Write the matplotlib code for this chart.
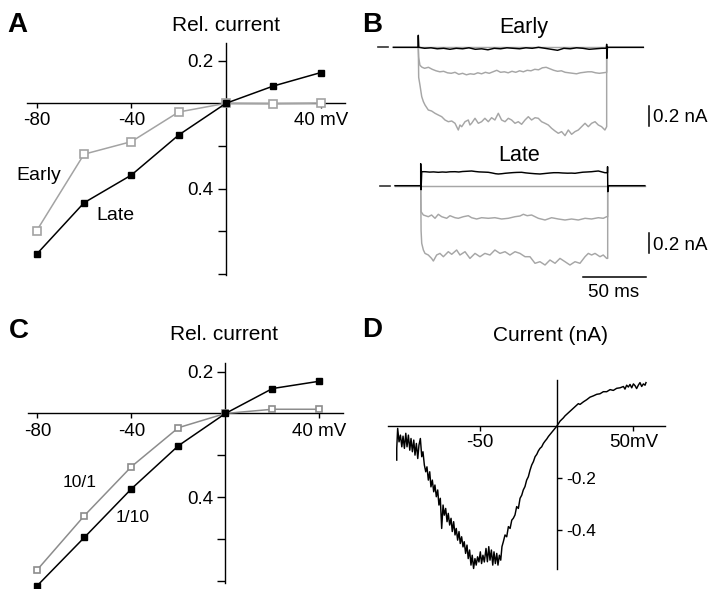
import matplotlib
matplotlib.use("Agg")
import matplotlib.pyplot as plt

plt.rcParams['font.family'] = ['Liberation Sans', 'DejaVu Sans']

# ---------------- data ----------------
# Panel A: relative current vs voltage (mV)
a_mv = [-80, -60, -40, -20, 0, 20, 40]
a_early = [-0.598, -0.239, -0.180, -0.041, 0.0, -0.002, 0.001]
a_late = [-0.708, -0.467, -0.337, -0.149, 0.0, 0.081, 0.144]

# Panel C
c_mv = [-80, -60, -40, -20, 0, 20, 40]
c_10_1 = [-0.746, -0.488, -0.254, -0.068, 0.0, 0.020, 0.020]
c_1_10 = [-0.822, -0.592, -0.360, -0.154, 0.0, 0.119, 0.154]

ytick_vals = [0.2, -0.2, -0.4, -0.6, -0.8]
ytick_labels = ['0.2', '', '0.4', '', '']
xtick_vals = [-80, -40, 40]
xtick_labels = ['-80', '-40', '40 mV']

# Panel B: current traces (time ms, current nA)
early_black = [(-19.7, 0), (-0.3, 0), (0, 0.12), (0.4, 0.0), (5, -0.01), (10, -0.005), (15, -0.015),
               (20, -0.01), (25, -0.02), (30, -0.01), (35, -0.015), (40, -0.005), (45, -0.02),
               (50, -0.015), (55, -0.025), (60, -0.01), (65, -0.015), (70, -0.005), (75, -0.01),
               (80, -0.015), (85, -0.005), (90, -0.01), (95, 0.0), (100, -0.01), (105, -0.02),
               (110, -0.03), (115, -0.01), (120, -0.015), (125, -0.005), (130, -0.01), (135, -0.02),
               (140, -0.015), (145, -0.01), (148.5, -0.01), (148.8, 0.03), (149.0, -0.11),
               (149.4, 0.0), (177.7, 0)]
early_gray0 = [(-19.7, 0), (177.7, 0)]
early_gray1 = [(0, 0), (0.3, -0.10), (1.3, -0.18), (3, -0.20), (5, -0.21), (8, -0.20), (11, -0.22),
               (14, -0.235), (17, -0.245), (20, -0.24), (23, -0.255), (26, -0.26), (29, -0.25),
               (32, -0.27), (35, -0.26), (38, -0.275), (41, -0.265), (44, -0.27), (47, -0.255),
               (50, -0.265), (53, -0.25), (56, -0.26), (59, -0.245), (62, -0.23), (65, -0.25),
               (68, -0.245), (71, -0.255), (74, -0.24), (77, -0.25), (80, -0.235), (83, -0.245),
               (86, -0.23), (89, -0.235), (92, -0.22), (95, -0.225), (98, -0.205), (101, -0.20),
               (104, -0.215), (107, -0.23), (110, -0.24), (113, -0.235), (116, -0.25), (119, -0.255),
               (122, -0.26), (125, -0.265), (128, -0.255), (131, -0.25), (134, -0.245), (137, -0.245),
               (140, -0.255), (143, -0.26), (146, -0.255), (148.8, -0.25), (148.8, 0)]
early_gray2 = [(0, 0), (0.3, -0.30), (1.3, -0.377), (2.7, -0.493), (4.0, -0.543), (5.3, -0.577),
               (7.9, -0.627), (10.5, -0.637), (13.2, -0.66), (15.8, -0.677), (18.5, -0.694),
               (21.1, -0.727), (23.7, -0.744), (26.4, -0.737), (29.0, -0.76), (30.3, -0.794),
               (31.6, -0.827), (32.9, -0.777), (34.3, -0.794), (36.9, -0.744), (39.5, -0.727),
               (40.8, -0.777), (42.1, -0.76), (44.8, -0.71), (47.4, -0.76), (50.0, -0.744),
               (52.6, -0.71), (55.3, -0.744), (57.9, -0.704), (60.5, -0.727), (63.2, -0.66),
               (65.8, -0.727), (68.5, -0.744), (71.1, -0.71), (73.7, -0.727), (76.4, -0.76),
               (79.0, -0.744), (81.6, -0.77), (84.3, -0.727), (86.9, -0.694), (89.5, -0.727),
               (92.2, -0.704), (94.8, -0.71), (97.4, -0.744), (100.1, -0.76), (102.7, -0.777),
               (105.3, -0.81), (108.0, -0.837), (110.6, -0.86), (113.2, -0.843), (115.9, -0.883),
               (118.5, -0.827), (121.1, -0.87), (123.8, -0.843), (126.4, -0.827), (129.0, -0.794),
               (131.7, -0.76), (134.3, -0.794), (136.9, -0.76), (139.6, -0.744), (142.2, -0.777),
               (144.8, -0.794), (147.4, -0.827), (148.8, -0.794), (148.8, 0)]

late_black = [(-18.4, 0), (1.9, 0), (1.9, 0.22), (2.2, -0.04), (2.7, 0.14), (5.3, 0.14), (9, 0.136),
              (12, 0.138), (15.8, 0.134), (19, 0.137), (22, 0.135), (25, 0.139), (29.0, 0.14),
              (32, 0.137), (35, 0.142), (38, 0.144), (42.1, 0.147), (45, 0.142), (48, 0.138),
              (52, 0.136), (55.3, 0.134), (58, 0.128), (61, 0.12), (63.2, 0.117), (66, 0.12),
              (68.5, 0.124), (72, 0.128), (75, 0.131), (78, 0.133), (81.6, 0.134), (85, 0.128),
              (88.2, 0.124), (92, 0.12), (96.1, 0.117), (100, 0.122), (104, 0.127), (107, 0.13),
              (110.6, 0.13), (114, 0.127), (118, 0.125), (121, 0.126), (123.8, 0.124), (127, 0.13),
              (130, 0.135), (133, 0.137), (136.9, 0.14), (139, 0.143), (142.2, 0.147), (145, 0.138),
              (147.4, 0.13), (149.4, 0.13), (149.5, 0.19), (149.7, -0.06), (150.2, 0.0), (179, 0)]
late_gray0 = [(-18.4, 0), (179, 0)]
late_gray1 = [(1.9, 0), (2.2, -0.26), (4.0, -0.293), (7.9, -0.31), (10.5, -0.293), (13.2, -0.326),
              (15.8, -0.286), (18.5, -0.31), (22.4, -0.326), (25.0, -0.30), (29.0, -0.32),
              (31.6, -0.326), (35.6, -0.31), (39.5, -0.30), (42.1, -0.32), (46.1, -0.333),
              (50.0, -0.32), (55.3, -0.326), (60.5, -0.32), (65.8, -0.333), (71.1, -0.326),
              (76.4, -0.31), (80.3, -0.303), (83.0, -0.286), (86.0, -0.30), (89.5, -0.293),
              (94.8, -0.326), (100.1, -0.343), (105.3, -0.32), (110.6, -0.333), (115.9, -0.343),
              (121.1, -0.333), (126.4, -0.343), (131.7, -0.326), (136.9, -0.333), (142.2, -0.32),
              (146.1, -0.326), (148.8, -0.31), (149.6, -0.31), (149.6, 0)]
late_gray2 = [(1.9, 0), (2.2, -0.45), (2.7, -0.576), (4.0, -0.643), (5.3, -0.677), (7.9, -0.693),
              (10.5, -0.727), (11.9, -0.753), (14.5, -0.693), (17.1, -0.677), (19.8, -0.71),
              (23.7, -0.66), (26.4, -0.686), (30.3, -0.643), (32.9, -0.693), (36.9, -0.66),
              (40.8, -0.727), (44.8, -0.677), (48.7, -0.71), (52.6, -0.677), (56.6, -0.693),
              (60.5, -0.643), (64.5, -0.677), (68.5, -0.66), (72.4, -0.693), (76.4, -0.66),
              (80.3, -0.677), (84.3, -0.71), (88.2, -0.71), (92.2, -0.776), (96.1, -0.76),
              (100.1, -0.793), (104.0, -0.743), (108.0, -0.776), (111.9, -0.727), (115.9, -0.76),
              (119.8, -0.793), (123.8, -0.76), (127.7, -0.776), (131.7, -0.71), (134.3, -0.677),
              (136.9, -0.693), (139.6, -0.677), (143.5, -0.71), (146.1, -0.693), (148.8, -0.727),
              (149.6, -0.727), (149.6, 0)]
scale_current_nA = 0.2
scale_time_ms = 50

# Panel D: ramp I-V trace (mV, nA)
d_trace = [(-104.3, -0.132), (-104.3, -0.087), (-103.7, -0.010), (-102.8, -0.062), (-101.9, -0.036),
           (-101.0, -0.081), (-100.2, -0.040), (-99.3, -0.087), (-98.4, -0.029), (-97.6, -0.081),
           (-96.7, -0.036), (-95.8, -0.094), (-95.0, -0.049), (-94.1, -0.100), (-93.2, -0.055),
           (-92.4, -0.113), (-91.5, -0.068), (-90.6, -0.126), (-89.8, -0.074), (-88.9, -0.049),
           (-88.0, -0.119), (-87.2, -0.100), (-86.3, -0.151), (-85.4, -0.177), (-84.6, -0.158),
           (-83.7, -0.209), (-82.8, -0.177), (-82.0, -0.235), (-81.1, -0.209), (-80.2, -0.254),
           (-79.4, -0.228), (-78.5, -0.273), (-77.6, -0.247), (-76.8, -0.305), (-75.9, -0.279),
           (-75.0, -0.395), (-74.1, -0.305), (-73.3, -0.344), (-72.4, -0.318), (-71.5, -0.369),
           (-70.7, -0.337), (-69.8, -0.382), (-68.9, -0.356), (-68.1, -0.407), (-67.2, -0.369),
           (-66.3, -0.420), (-65.5, -0.395), (-64.6, -0.440), (-63.7, -0.407), (-62.9, -0.453),
           (-62.0, -0.427), (-61.1, -0.466), (-60.3, -0.446), (-59.4, -0.491), (-58.5, -0.459),
           (-57.7, -0.511), (-56.8, -0.478), (-55.9, -0.536), (-55.1, -0.498), (-54.2, -0.549),
           (-53.3, -0.511), (-52.5, -0.536), (-51.6, -0.504), (-50.7, -0.524), (-49.8, -0.485),
           (-49.0, -0.530), (-48.1, -0.498), (-47.2, -0.524), (-46.1, -0.472), (-45.2, -0.523),
           (-44.3, -0.465), (-43.5, -0.517), (-42.6, -0.478), (-41.7, -0.536), (-40.9, -0.485),
           (-40.0, -0.530), (-39.1, -0.491), (-38.3, -0.536), (-37.4, -0.498), (-36.5, -0.517),
           (-35.7, -0.465), (-34.8, -0.446), (-33.7, -0.420), (-32.6, -0.427), (-31.5, -0.388),
           (-30.4, -0.395), (-29.3, -0.363), (-28.3, -0.356), (-27.2, -0.343), (-26.1, -0.311),
           (-25.0, -0.318), (-23.9, -0.279), (-22.8, -0.267), (-21.8, -0.247), (-20.7, -0.234),
           (-19.6, -0.209), (-18.5, -0.196), (-17.4, -0.171), (-16.3, -0.151), (-15.2, -0.138),
           (-14.1, -0.119), (-13.0, -0.110), (-12.0, -0.097), (-10.9, -0.087), (-9.8, -0.081),
           (-8.7, -0.068), (-7.6, -0.059), (-6.5, -0.051), (-5.4, -0.041), (-4.3, -0.033),
           (-3.3, -0.026), (-2.2, -0.018), (-1.1, -0.010), (0.0, -0.002), (1.1, 0.008),
           (2.2, 0.018), (3.3, 0.024), (4.3, 0.030), (5.4, 0.038), (6.5, 0.044), (7.6, 0.050),
           (8.7, 0.056), (9.8, 0.062), (10.9, 0.068), (12.0, 0.074), (13.0, 0.079), (14.1, 0.085),
           (15.2, 0.082), (17.4, 0.092), (19.5, 0.100), (21.7, 0.110), (23.9, 0.115), (26.1, 0.121),
           (28.2, 0.123), (30.4, 0.131), (32.6, 0.131), (34.8, 0.139), (36.9, 0.136), (39.1, 0.144),
           (41.3, 0.146), (43.5, 0.151), (44.5, 0.141), (45.6, 0.156), (46.7, 0.149), (47.8, 0.159),
           (48.9, 0.146), (50.0, 0.161), (51.1, 0.154), (52.1, 0.143), (53.2, 0.156), (54.3, 0.166),
           (55.4, 0.151), (56.5, 0.161), (57.6, 0.156), (58.2, 0.166)]
d_xticks = [-50, 50]
d_xlabels = ['-50', '50mV']
d_yticks = [-0.2, -0.4]
d_ylabels = ['-0.2', '-0.4']

# ---------------- layout ----------------
W, H = 712, 589
fig = plt.figure(figsize=(W / 100, H / 100), dpi=100)


def box(x0, y0, x1, y1):
    return [x0 / W, 1 - y1 / H, (x1 - x0) / W, (y1 - y0) / H]


def ftext(x, y, s, **kw):
    fig.text(x / W, 1 - y / H, s, **kw)


GRAY_A = '#a3a3a3'
GRAY_C = '#8c8c8c'
GRAY_B = '#a6a6a6'
TICK_FS = 13.5


def iv_axes(rect, xlim, ylim):
    ax = fig.add_axes(rect)
    ax.set_xlim(*xlim)
    ax.set_ylim(*ylim)
    for s in ['top', 'right']:
        ax.spines[s].set_visible(False)
    ax.spines['left'].set_position(('data', 0))
    ax.spines['bottom'].set_position(('data', 0))
    for s in ['left', 'bottom']:
        ax.spines[s].set_linewidth(1.0)
    ax.patch.set_alpha(0)
    ax.set_xticks(xtick_vals)
    ax.set_xticklabels(xtick_labels)
    ax.set_yticks(ytick_vals)
    ax.set_yticklabels(ytick_labels)
    ax.tick_params(axis='x', direction='out', length=3.6, width=1.0, labelsize=TICK_FS, pad=3)
    ax.tick_params(axis='y', direction='out', length=5.8, width=1.0, labelsize=TICK_FS, pad=3)
    return ax


# Panel A
axA = iv_axes(box(27, 43, 345, 275), (-84.1, 50.3), (-0.806, 0.283))
axA.plot(a_mv, a_early, color=GRAY_A, lw=1.1, marker='s', ms=5.2, mfc='white',
         mec=GRAY_A, mew=1.2, clip_on=False, zorder=3)
axA.plot(a_mv, a_late, color='black', lw=1.1, marker='s', ms=5.0, mfc='black',
         mec='black', clip_on=False, zorder=4)

# Panel C
axC = iv_axes(box(28, 363, 343, 583), (-84.0, 50.0), (-0.810, 0.241))
axC.plot(c_mv, c_10_1, color=GRAY_C, lw=1.1, marker='s', ms=5.0, mfc='white',
         mec=GRAY_C, mew=1.2, clip_on=False, zorder=3)
axC.plot(c_mv, c_1_10, color='black', lw=1.1, marker='s', ms=5.0, mfc='black',
         mec='black', clip_on=False, zorder=4)

# Panel B
axB = fig.add_axes(box(360, 0, 712, 310))
axB.set_xlim(-46.05, 232.0)
axB.set_ylim(-2.627, 0.473)
axB.axis('off')
late_off = -1.384
lwB = 1.05
for tr, col, off, z in [(early_gray0, GRAY_B, 0, 2), (early_gray1, GRAY_B, 0, 2),
                        (early_gray2, GRAY_B, 0, 2), (early_black, 'black', 0, 3),
                        (late_gray0, GRAY_B, late_off, 2), (late_gray1, GRAY_B, late_off, 2),
                        (late_gray2, GRAY_B, late_off, 2), (late_black, 'black', late_off, 3)]:
    t = [p[0] for p in tr]
    i = [p[1] + off for p in tr]
    axB.plot(t, i, color=col, lw=lwB, zorder=z)
# holding-level dashes
axB.plot([-31.8, -23.9], [0, 0], color='#333333', lw=1.2)
axB.plot([-30.3, -22.4], [late_off, late_off], color='#333333', lw=1.2)
# scale bars
xbar = 182.6
axB.plot([xbar, xbar], [-0.587, -0.587 - scale_current_nA], color='black', lw=1.1)
axB.plot([xbar, xbar], [-1.854, -1.854 - scale_current_nA], color='black', lw=1.1)
axB.plot([179.9 - scale_time_ms, 179.9], [-2.294, -2.294], color='black', lw=1.1)

# Panel D
axD = fig.add_axes(box(388, 380, 665, 569))
axD.set_xlim(-110.0, 70.6)
axD.set_ylim(-0.551, 0.176)
axD.patch.set_alpha(0)
axD.spines['top'].set_visible(False)
axD.spines['left'].set_visible(False)
axD.spines['right'].set_position(('data', 0))
axD.spines['bottom'].set_position(('data', 0))
for s in ['right', 'bottom']:
    axD.spines[s].set_linewidth(1.0)
axD.yaxis.set_ticks_position('right')
axD.set_xticks(d_xticks)
axD.set_xticklabels(d_xlabels)
axD.set_yticks(d_yticks)
axD.set_yticklabels(d_ylabels)
axD.tick_params(axis='x', direction='out', length=3.6, width=1.0, labelsize=TICK_FS, pad=2.5)
axD.tick_params(axis='y', direction='out', length=3.6, width=1.0, labelsize=12.5, pad=3)
axD.plot([p[0] for p in d_trace], [p[1] for p in d_trace], color='black', lw=1.05,
         clip_on=False)

# ---------------- text ----------------
for x, y, s in [(7.5, 31.7, 'A'), (362.5, 31.7, 'B'), (9, 338.3, 'C'), (362.5, 337.3, 'D')]:
    ftext(x, y, s, fontsize=20, fontweight='bold', ha='left', va='baseline')

ftext(226.5, 30.7, 'Rel. current', fontsize=15, ha='center', va='baseline')
ftext(224, 340, 'Rel. current', fontsize=15, ha='center', va='baseline')
ftext(550.5, 340.7, 'Current (nA)', fontsize=15, ha='center', va='baseline')
ftext(523.5, 32.7, 'Early', fontsize=15.5, ha='center', va='baseline')
ftext(519, 161, 'Late', fontsize=15.5, ha='center', va='baseline')

ftext(38.7, 180.5, 'Early', fontsize=14, ha='center', va='baseline')
ftext(115, 220, 'Late', fontsize=14, ha='center', va='baseline')
ftext(80, 486.7, '10/1', fontsize=12.5, ha='center', va='baseline')
ftext(132.5, 521.7, '1/10', fontsize=12.5, ha='center', va='baseline')

ftext(653, 121.7, '0.2 nA', fontsize=13.5, ha='left', va='baseline')
ftext(653, 250, '0.2 nA', fontsize=13.5, ha='left', va='baseline')
ftext(614, 296.7, '50 ms', fontsize=13.5, ha='center', va='baseline')

fig.savefig('out.png', dpi=100)
